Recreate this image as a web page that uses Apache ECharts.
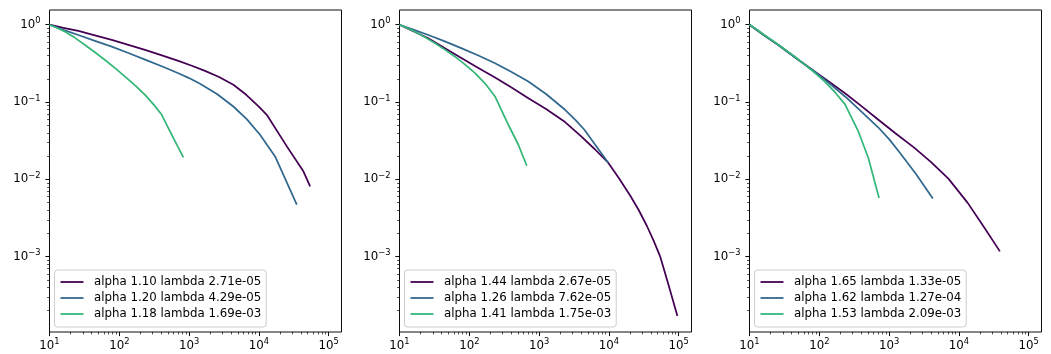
<!DOCTYPE html>
<html>
<head>
<meta charset="utf-8">
<script src="https://cdn.jsdelivr.net/npm/echarts@6/dist/echarts.min.js"></script>
<style>
html,body{margin:0;padding:0;background:#fff;}
#chart{width:1051px;height:354px;}
</style>
</head>
<body>
<div id="chart"></div>
<script>
// ---------- data ----------
const colors = ['#440154', '#31688e', '#35b779'];

// Panel 1
const p1Names = ['alpha 1.10 lambda 2.71e-05', 'alpha 1.20 lambda 4.29e-05', 'alpha 1.18 lambda 1.69e-03'];
const p1aX = [10, 15.8, 25.9, 44.7, 78, 135, 234, 398, 703, 1096, 1694, 2692, 4315, 6607, 10000, 13000, 25200, 43500, 54300];
const p1aY = [1, 0.912, 0.830, 0.730, 0.635, 0.550, 0.472, 0.405, 0.340, 0.295, 0.253, 0.211, 0.167, 0.124, 0.0869, 0.0684, 0.0267, 0.0127, 0.0081];
const p1bX = [10, 15.8, 25.9, 44.7, 78, 135, 234, 398, 703, 1000, 1439, 2512, 4315, 6761, 10400, 17100, 35000];
const p1bY = [1, 0.859, 0.736, 0.619, 0.520, 0.431, 0.353, 0.292, 0.236, 0.204, 0.172, 0.127, 0.0875, 0.0596, 0.0377, 0.0198, 0.00472];
const p1cX = [10, 12.9, 16.7, 22.9, 32.3, 44.7, 62.5, 87.1, 121, 170, 234, 316, 406, 565, 828];
const p1cY = [1, 0.908, 0.813, 0.681, 0.547, 0.441, 0.350, 0.275, 0.213, 0.163, 0.124, 0.0912, 0.0684, 0.0377, 0.0192];

// Panel 2
const p2Names = ['alpha 1.44 lambda 2.67e-05', 'alpha 1.26 lambda 7.62e-05', 'alpha 1.41 lambda 1.75e-03'];
const p2aX = [10, 15.8, 25.9, 44.7, 78, 135, 234, 398, 703, 1259, 2360, 3981, 6310, 9860, 14125, 20200, 26900, 35000, 43650, 54300, 71400, 96100];
const p2aY = [1, 0.822, 0.668, 0.495, 0.368, 0.275, 0.207, 0.155, 0.112, 0.0813, 0.0551, 0.0363, 0.0245, 0.0163, 0.0102, 0.00617, 0.00398, 0.00251, 0.00162, 0.00101, 0.000437, 0.000171];
const p2bX = [10, 15.8, 25.9, 44.7, 78, 135, 234, 398, 703, 1259, 2360, 3311, 4470, 6010, 9860];
const p2bY = [1, 0.863, 0.736, 0.608, 0.495, 0.400, 0.318, 0.247, 0.184, 0.127, 0.0794, 0.0589, 0.0438, 0.0302, 0.0163];
const p2cX = [10, 12.9, 16.7, 22.9, 32.3, 44.7, 62.5, 87.1, 121, 170, 234, 363, 505, 667];
const p2cY = [1, 0.908, 0.813, 0.692, 0.575, 0.476, 0.386, 0.305, 0.236, 0.172, 0.118, 0.0508, 0.028, 0.015];

// Panel 3
const p3Names = ['alpha 1.65 lambda 1.33e-05', 'alpha 1.62 lambda 1.27e-04', 'alpha 1.53 lambda 2.09e-03'];
const p3aX = [10, 15.8, 25.9, 44.7, 78, 135, 234, 398, 703, 1259, 2290, 4040, 7080, 13400, 22500, 38800];
const p3aY = [1, 0.741, 0.547, 0.380, 0.264, 0.186, 0.130, 0.0891, 0.0589, 0.0389, 0.0257, 0.0166, 0.0102, 0.00496, 0.00248, 0.00117];
const p3bX = [10, 15.8, 25.9, 44.7, 78, 135, 234, 398, 703, 1000, 1439, 2430, 4240];
const p3bY = [1, 0.741, 0.547, 0.380, 0.263, 0.178, 0.118, 0.0759, 0.0468, 0.0331, 0.0219, 0.0117, 0.00564];
const p3cX = [10, 12.9, 16.7, 22.9, 32.3, 44.7, 62.5, 87.1, 121, 170, 234, 363, 505, 719];
const p3cY = [1, 0.861, 0.724, 0.596, 0.479, 0.385, 0.302, 0.237, 0.182, 0.132, 0.0933, 0.0416, 0.0189, 0.00575];

// Axis limits and tick values
const xMin = 10, xMax = 153000;
const yMin = 1.06e-4, yMax = 1.55;
const xMajorTicks = [10, 100, 1000, 10000, 100000];
const yMajorTicks = [0.001, 0.01, 0.1, 1];

// ---------- build chart ----------
const FONT = 'DejaVu Sans';
const FS = 11.8;
const panels = [
  {names: p1Names, xs: [p1aX, p1bX, p1cX], ys: [p1aY, p1bY, p1cY]},
  {names: p2Names, xs: [p2aX, p2bX, p2cX], ys: [p2aY, p2bY, p2cY]},
  {names: p3Names, xs: [p3aX, p3bX, p3cX], ys: [p3aY, p3bY, p3cY]}
];
const gridLeft = [49.5, 399.5, 749.5];
const gridTop = 10, gridW = 292, gridH = 322;

function minorTicks(lo, hi, n0, n1) {
  const out = [];
  for (let n = n0; n <= n1; n++) {
    for (let k = 2; k <= 9; k++) {
      const v = Number((k * Math.pow(10, n)).toPrecision(12));
      if (v > lo && v < hi) out.push(v);
    }
  }
  return out;
}
const xMinor = minorTicks(xMin, xMax, 0, 6);
const yMinor = minorTicks(yMin, yMax, -5, 1);

function fmt(v) {
  const e = Math.round(Math.log10(v));
  return '{b|10}{s|' + (e < 0 ? '\u2212' + (-e) : e) + '}';
}
const rich = {
  b: {fontSize: FS, fontFamily: FONT, color: '#000', lineHeight: 15},
  s: {fontSize: 8.3, fontFamily: FONT, color: '#000', lineHeight: 9, verticalAlign: 'top'}
};

const grids = [], xAxes = [], yAxes = [], series = [], legends = [];
panels.forEach((p, i) => {
  grids.push({
    left: gridLeft[i], top: gridTop, width: gridW, height: gridH,
    show: true, borderColor: '#000', borderWidth: 0.95, backgroundColor: 'transparent',
    containLabel: false, outerBoundsMode: 'none'
  });
  xAxes.push({
    type: 'log', gridIndex: i, position: 'bottom', min: xMin, max: xMax, logBase: 10,
    axisLine: {show: false}, splitLine: {show: false},
    axisTick: {show: true, length: 4.1, lineStyle: {color: '#000', width: 0.95}, customValues: xMajorTicks},
    axisLabel: {show: true, margin: 6, formatter: fmt, rich: rich, customValues: xMajorTicks}
  });
  xAxes.push({
    type: 'log', gridIndex: i, position: 'bottom', min: xMin, max: xMax, logBase: 10,
    axisLine: {show: false}, splitLine: {show: false}, axisLabel: {show: false},
    axisTick: {show: true, length: 2.4, lineStyle: {color: '#000', width: 0.7}, customValues: xMinor}
  });
  yAxes.push({
    type: 'log', gridIndex: i, position: 'left', min: yMin, max: yMax, logBase: 10,
    axisLine: {show: false}, splitLine: {show: false},
    axisTick: {show: true, length: 4.1, lineStyle: {color: '#000', width: 0.95}, customValues: yMajorTicks},
    axisLabel: {show: true, margin: 9, formatter: fmt, rich: rich, customValues: yMajorTicks}
  });
  yAxes.push({
    type: 'log', gridIndex: i, position: 'left', min: yMin, max: yMax, logBase: 10,
    axisLine: {show: false}, splitLine: {show: false}, axisLabel: {show: false},
    axisTick: {show: true, length: 2.4, lineStyle: {color: '#000', width: 0.7}, customValues: yMinor}
  });
  p.names.forEach((name, j) => {
    series.push({
      type: 'line', name: name,
      xAxisIndex: 2 * i, yAxisIndex: 2 * i,
      data: p.xs[j].map((x, k) => [x, p.ys[j][k]]),
      showSymbol: false, symbol: 'none',
      lineStyle: {width: 1.75, color: colors[j], join: 'round'},
      itemStyle: {color: colors[j]},
      z: 2 + j, animation: false, silent: true
    });
  });
  legends.push({
    data: p.names.map((n, j) => ({name: n, icon: 'rect', itemStyle: {color: colors[j]}})),
    orient: 'vertical', left: gridLeft[i] + 5, bottom: 27,
    itemWidth: 23, itemHeight: 1.8, itemGap: 4,
    padding: [6, 5, 7, 6],
    backgroundColor: 'rgba(255,255,255,0.8)', borderColor: '#cccccc', borderWidth: 1, borderRadius: 3,
    selectedMode: false,
    textStyle: {fontFamily: FONT, fontSize: FS, color: '#000', lineHeight: 12, padding: [0, 0, 0, 5.5]}
  });
});

const chart = echarts.init(document.getElementById('chart'), null, {renderer: 'canvas'});
chart.setOption({
  animation: false,
  backgroundColor: '#fff',
  textStyle: {fontFamily: FONT},
  grid: grids,
  xAxis: xAxes,
  yAxis: yAxes,
  legend: legends,
  series: series
});
</script>
</body>
</html>
